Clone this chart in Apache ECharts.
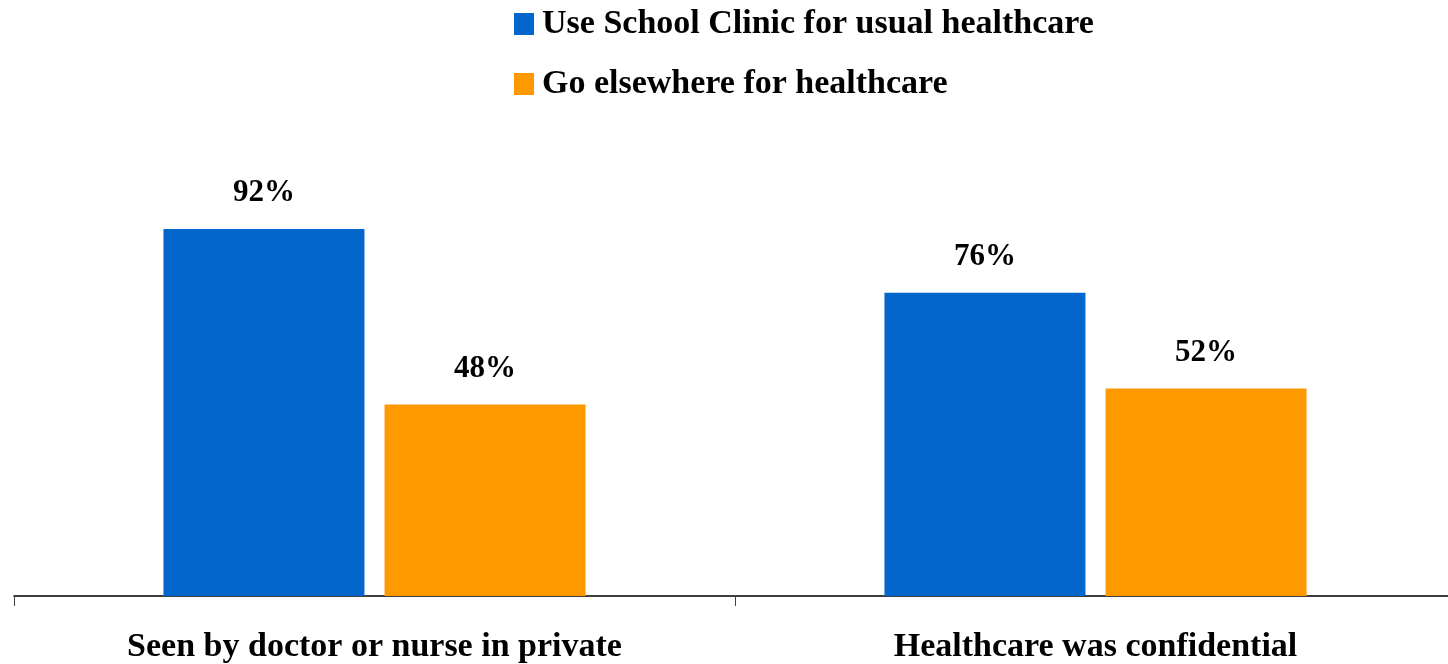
<!DOCTYPE html>
<html>
<head>
<meta charset="utf-8">
<script src="https://cdn.jsdelivr.net/npm/echarts@6/dist/echarts.min.js"></script>
<style>
html,body{margin:0;padding:0;background:#fff;overflow:hidden;}
#c{width:1456px;height:664px;}
</style>
</head>
<body>
<div id="c"></div>
<script>
const categories = ['Seen by doctor or nurse in private', 'Healthcare was confidential'];
const seriesNames = ['Use School Clinic for usual healthcare', 'Go elsewhere for healthcare'];
const schoolClinic = [92, 76];
const elsewhere = [48, 52];

const FONT = '"Liberation Serif", "DejaVu Serif", serif';
const chart = echarts.init(document.getElementById('c'));
const labelStyle = {
  show: true, position: 'top', distance: 20,
  formatter: '{c}%', color: '#000', fontFamily: FONT, fontWeight: 'bold', fontSize: 31
};
chart.setOption({
  animation: false,
  textStyle: { fontFamily: FONT },
  legend: {
    orient: 'vertical', left: 509, top: 0,
    itemWidth: 20, itemHeight: 22, itemGap: 22,
    icon: 'rect',
    textStyle: { fontFamily: FONT, fontWeight: 'bold', fontSize: 34, color: '#000', lineHeight: 38, padding: [0,0,0,3] },
    data: seriesNames
  },
  grid: { left: 14, right: 0, top: 197, bottom: 67, containLabel: false },
  xAxis: {
    type: 'category', data: categories,
    axisLine: { show: true, lineStyle: { color: '#000', width: 1.5 } },
    axisTick: { show: true, length: 10, lineStyle: { color: '#444', width: 1 } },
    axisLabel: { color: '#000', fontFamily: FONT, fontWeight: 'bold', fontSize: 34, margin: 34 }
  },
  yAxis: { type: 'value', min: 0, max: 100, show: false, splitLine: { show: false } },
  series: [
    { name: seriesNames[0], type: 'bar', data: schoolClinic, barWidth: 201, barGap: '10%',
      itemStyle: { color: '#0366CC' }, label: labelStyle },
    { name: seriesNames[1], type: 'bar', data: elsewhere, barWidth: 201,
      itemStyle: { color: '#FF9900' }, label: labelStyle }
  ]
});
</script>
</body>
</html>
